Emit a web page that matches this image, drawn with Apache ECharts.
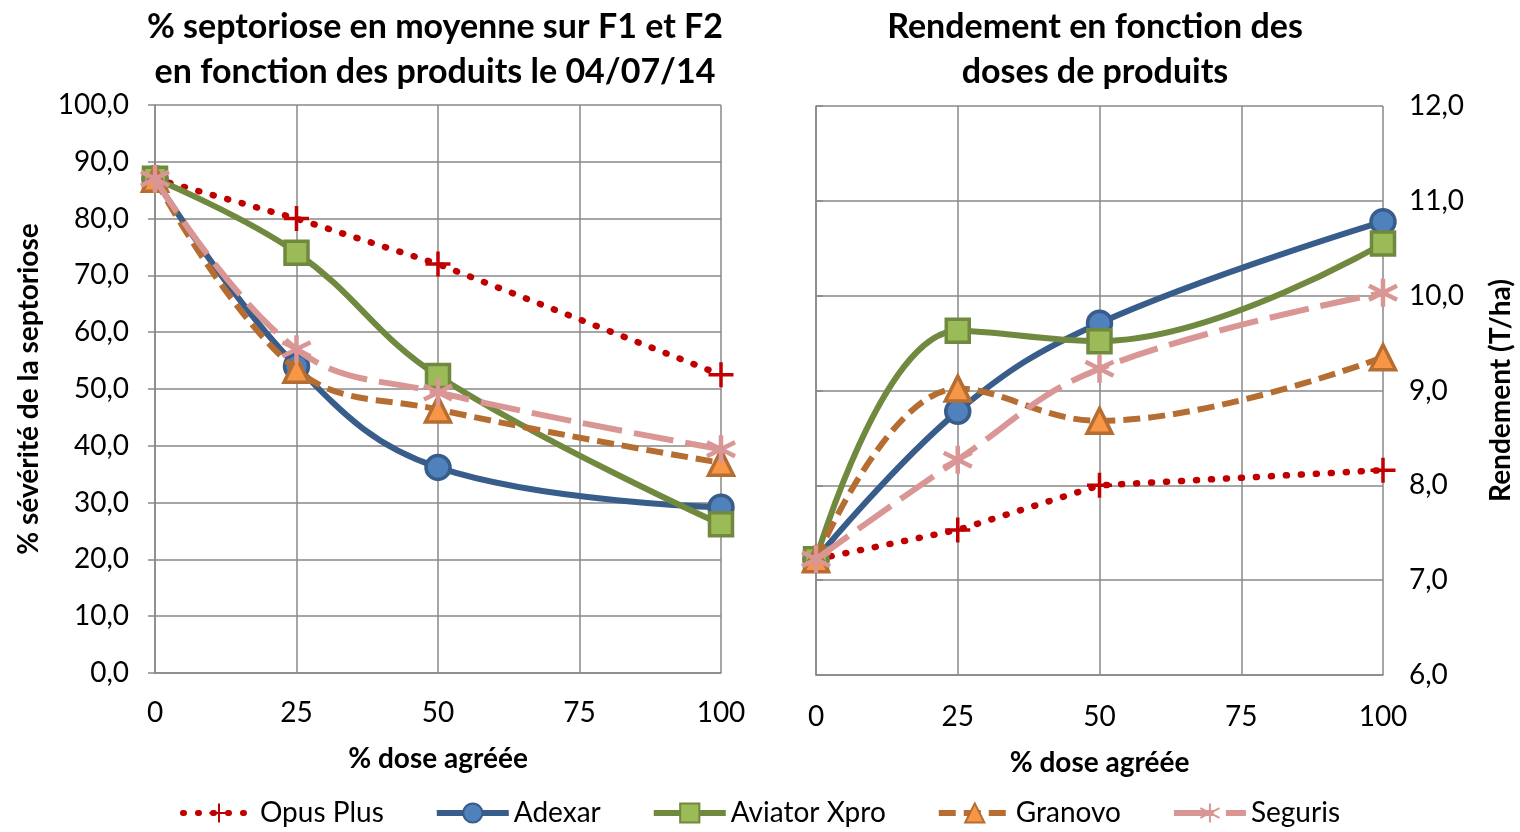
<!DOCTYPE html>
<html>
<head>
<meta charset="utf-8">
<script src="https://cdn.jsdelivr.net/npm/echarts@6/dist/echarts.min.js"></script>
<style>
html, body { margin: 0; padding: 0; background: #fff; }
#main { width: 1520px; height: 832px; }
</style>
</head>
<body>
<div id="main"></div>
<script>
var doses = [0, 25, 50, 100];
var produits = ['Opus Plus', 'Adexar', 'Aviator Xpro', 'Granovo', 'Seguris'];
// % septoriose (F1+F2) le 04/07/14
var septOpus = [87.0, 80.0, 72.0, 52.5];
var septAdexar = [87.0, 54.0, 36.2, 29.2];
var septAviator = [87.0, 74.0, 52.3, 26.2];
var septGranovo = [87.0, 53.4, 46.4, 37.0];
var septSeguris = [87.0, 57.0, 49.4, 39.4];
// rendement T/ha
var rdtOpus = [7.22, 7.53, 8.0, 8.16];
var rdtAdexar = [7.22, 8.78, 9.71, 10.78];
var rdtAviator = [7.22, 9.63, 9.52, 10.55];
var rdtGranovo = [7.22, 9.02, 8.68, 9.35];
var rdtSeguris = [7.22, 8.27, 9.23, 10.03];

var font = 'Lato';
var grey = '#898989';
var plusPath = 'path://M5,0L5,10M0,5L10,5';
var starPath = 'path://M5,0L5,10M0.7,2.5L9.3,7.5M0.7,7.5L9.3,2.5';

var styles = [
  { line: '#C00000', fill: '#C00000', symbol: plusPath, size: 25, type: [1, 14], smooth: false, cap: 'round', bw: 3.5 },
  { line: '#385D8A', fill: '#4F81BD', symbol: 'circle', size: 24, type: 'solid', smooth: 0.4, cap: 'butt', bw: 3.5 },
  { line: '#71893F', fill: '#9BBB59', symbol: 'rect', size: 23, type: 'solid', smooth: 0.4, cap: 'butt', bw: 3.5 },
  { line: '#B66D31', fill: '#F79646', symbol: 'triangle', size: 25, type: [17, 8], smooth: 0.4, cap: 'butt', bw: 3.5 },
  { line: '#D99694', fill: '#D99694', symbol: starPath, size: 28, type: [40, 12], smooth: 0.4, cap: 'butt', bw: 4.5 }
];

function pairs(vals) {
  return doses.map(function (d, i) { return [d, vals[i]]; });
}

function makeSeries(idx, name, vals, st) {
  var path = st.symbol.indexOf('path://') === 0;
  return {
    name: name,
    type: 'line',
    xAxisIndex: idx,
    yAxisIndex: idx,
    data: pairs(vals),
    smooth: st.smooth,
    symbol: st.symbol,
    symbolSize: st.size,
    lineStyle: { color: st.line, width: st.cap === 'round' ? 6.5 : 6, type: st.type, cap: st.cap },
    itemStyle: {
      color: path ? 'rgba(0,0,0,0)' : st.fill,
      borderColor: path ? st.fill : st.line,
      borderWidth: st.bw
    },
    emphasis: { disabled: true },
    z: 2 + produits.indexOf(name)
  };
}

var septVals = [septOpus, septAdexar, septAviator, septGranovo, septSeguris];
var rdtVals = [rdtOpus, rdtAdexar, rdtAviator, rdtGranovo, rdtSeguris];
var series = [];
produits.forEach(function (p, i) { series.push(makeSeries(0, p, septVals[i], styles[i])); });
produits.forEach(function (p, i) { series.push(makeSeries(1, p, rdtVals[i], styles[i])); });

function comma(v) { return v.toFixed(1).replace('.', ','); }

var axisText = { color: '#000', fontSize: 28, fontFamily: font };
var nameText = { color: '#000', fontSize: 28, fontWeight: 'bold', fontFamily: font };

var myChart = echarts.init(document.getElementById('main'));
var option = {
  animation: false,
  backgroundColor: '#fff',
  title: [{
    text: '% septoriose en moyenne sur F1 et F2\nen fonction des produits le 04/07/14',
    left: 430, top: 0, textAlign: 'center',
    textStyle: { fontSize: 34, fontWeight: 'bold', fontFamily: font, color: '#000', lineHeight: 45 }
  }, {
    text: 'Rendement en fonction des\ndoses de produits',
    left: 1090, top: 0, textAlign: 'center',
    textStyle: { fontSize: 34, fontWeight: 'bold', fontFamily: font, color: '#000', lineHeight: 45 }
  }],
  legend: {
    bottom: 0, left: 'center',
    itemWidth: 72, itemHeight: 24, itemGap: 50,
    data: produits,
    lineStyle: { width: 6 },
    textStyle: { color: '#000', fontSize: 28, fontFamily: font },
    selectedMode: false
  },
  grid: [
    { left: 155, right: 799, top: 105, bottom: 159 },
    { left: 816, right: 137, top: 106, bottom: 157 }
  ],
  xAxis: [0, 1].map(function (i) {
    return {
      type: 'value', gridIndex: i, min: 0, max: 100, interval: 25,
      name: '% dose agréée', nameLocation: 'middle', nameGap: 72 + i * 2,
      nameTextStyle: nameText,
      axisLine: { show: true, lineStyle: { color: grey, width: 1.5 } },
      axisTick: { show: false },
      axisLabel: Object.assign({ margin: 26 + i * 2 }, axisText),
      splitLine: { show: true, lineStyle: { color: grey, width: 1.5 } }
    };
  }),
  yAxis: [{
    type: 'value', gridIndex: 0, min: 0, max: 100, interval: 10,
    name: '% sévérité de la septoriose', nameLocation: 'middle', nameGap: 112,
    nameTextStyle: nameText,
    axisLine: { show: true, lineStyle: { color: grey, width: 1.5 } },
    axisTick: { show: true, length: 7, lineStyle: { color: grey, width: 1.5 } },
    axisLabel: Object.assign({ formatter: comma, margin: 26 }, axisText),
    splitLine: { show: true, lineStyle: { color: grey, width: 1.5 } }
  }, {
    type: 'value', gridIndex: 1, position: 'right', min: 6, max: 12, interval: 1,
    name: 'Rendement (T/ha)', nameLocation: 'middle', nameGap: 104,
    nameTextStyle: nameText,
    axisLine: { show: true, lineStyle: { color: grey, width: 1.5 } },
    axisTick: { show: true, length: 7, lineStyle: { color: grey, width: 1.5 } },
    axisLabel: Object.assign({ formatter: comma, margin: 26 }, axisText),
    splitLine: { show: true, lineStyle: { color: grey, width: 1.5 } }
  }],
  series: series
};
myChart.setOption(option);
</script>
</body>
</html>
